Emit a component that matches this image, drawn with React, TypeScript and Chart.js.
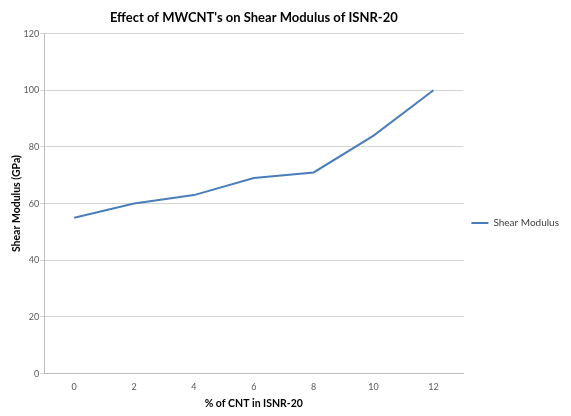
import React, { useEffect, useRef } from "react";
import { Chart, registerables } from "chart.js";

Chart.register(...registerables);

const categories = ["0", "2", "4", "6", "8", "10", "12"];
const shearModulus = [55, 60, 63, 69, 71, 84, 100];
const yTicks = [0, 20, 40, 60, 80, 100, 120];

const FONT = "Lato, 'Open Sans', sans-serif";

export default function App() {
  const ref = useRef<HTMLCanvasElement | null>(null);
  useEffect(() => {
    document.body.style.margin = "0";
    const ctx = ref.current!;
    const chart = new Chart(ctx, {
      type: "line",
      data: {
        labels: categories,
        datasets: [
          {
            label: "Shear Modulus",
            data: shearModulus,
            borderColor: "#4a7ebb",
            backgroundColor: "#4a7ebb",
            borderWidth: 2,
            pointRadius: 0,
            tension: 0,
          },
        ],
      },
      options: {
        animation: false,
        responsive: false,
        layout: { padding: { top: 6, left: 10, right: 2, bottom: 6 } },
        plugins: {
          title: {
            display: true,
            text: "Effect of MWCNT's on Shear Modulus of ISNR-20",
            fullSize: false,
            color: "#000",
            font: { family: FONT, size: 13, weight: "bold" },
            padding: { top: 4, bottom: 8 },
          },
          legend: {
            position: "right",
            title: { display: true, text: " ", font: { size: 10 }, padding: { top: 9, bottom: 9 } },
            labels: {
              boxWidth: 17,
              boxHeight: 0,
              padding: 8,
              color: "#404040",
              font: { family: FONT, size: 10 },
            },
          },
          tooltip: { enabled: false },
        },
        scales: {
          x: {
            type: "category",
            offset: true,
            grid: { display: false },
            border: { display: true, color: "#bdbdbd", width: 1 },
            ticks: { color: "#595959", font: { family: FONT, size: 9 }, padding: 0 },
            title: {
              display: true,
              text: "% of CNT in ISNR-20",
              color: "#000",
              font: { family: FONT, size: 10.5, weight: "bold" },
              padding: { top: 5, bottom: 0 },
            },
          },
          y: {
            min: 0,
            max: 120,
            afterBuildTicks: (axis: any) => {
              axis.ticks = yTicks.map((v) => ({ value: v }));
            },
            grid: { color: "#d4d4d4", tickLength: 4, lineWidth: 1 },
            border: { display: true, color: "#bdbdbd", width: 1 },
            ticks: { color: "#595959", font: { family: FONT, size: 9 }, padding: 1 },
            title: {
              display: true,
              text: "Shear Modulus (GPa)",
              color: "#000",
              font: { family: FONT, size: 10.5, weight: "bold" },
              padding: { top: 0, bottom: 0 },
            },
          },
        },
      },
    });
    return () => chart.destroy();
  }, []);
  return (
    <div style={{ width: 571, height: 416, background: "#fff" }}>
      <canvas ref={ref} width={571} height={416} style={{ display: "block" }} />
    </div>
  );
}
